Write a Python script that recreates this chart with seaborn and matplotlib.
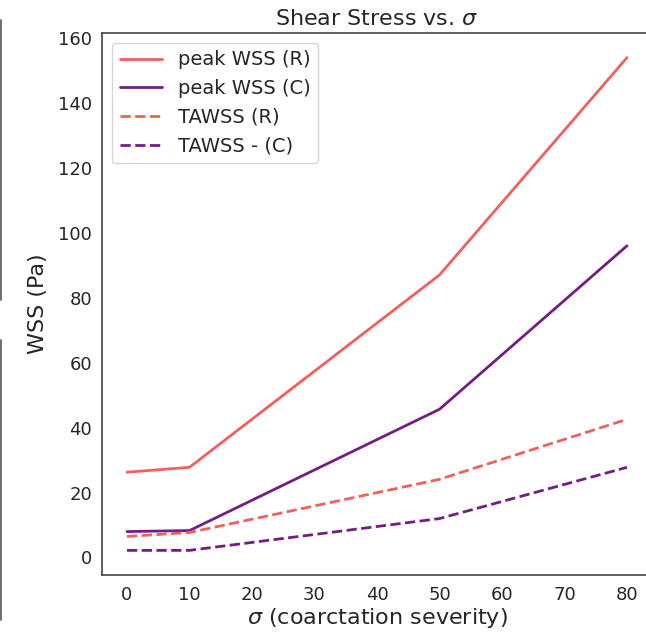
import matplotlib
matplotlib.use("Agg")
import matplotlib.pyplot as plt
from matplotlib.lines import Line2D
import seaborn as sns
import pandas as pd

sigma = [0, 10, 50, 80]
peak_wss_r = [26.3, 27.8, 87.1, 154.1]
peak_wss_c = [8.0, 8.3, 45.7, 96.1]
tawss_r = [6.5, 7.7, 24.1, 42.6]
tawss_c = [2.2, 2.2, 12.0, 27.8]
labels = ["peak WSS (R)", "peak WSS (C)", "TAWSS (R)", "TAWSS - (C)"]

sns.set_theme(style="white")
plt.rcParams['font.family'] = ['DejaVu Sans']

pal = sns.color_palette("magma", 2)
col_r = pal[1]
col_c = pal[0]

fig = plt.figure(figsize=(6.46, 6.33), dpi=100)
ax = fig.add_axes([102/646, 58/633, 550/646, 542/633])

series = [peak_wss_r, peak_wss_c, tawss_r, tawss_c]
colors = [col_r, col_c, col_r, col_c]
styles = ["-", "-", "--", "--"]
for vals, lab, c, ls in zip(series, labels, colors, styles):
    df = pd.DataFrame({"sigma": sigma, "wss": vals})
    sns.lineplot(data=df, x="sigma", y="wss", ax=ax, color=c, linestyle=ls,
                 linewidth=2.0, label=lab)

ax.set_xticks(range(0, 90, 10))
ax.set_yticks(range(0, 180, 20))
ax.tick_params(axis="both", labelsize=13, length=0, colors="#262626")
ax.tick_params(axis="x", pad=8)
ax.tick_params(axis="y", pad=7)
ax.set_xlabel(r"$\sigma$ (coarctation severity)", fontsize=16, labelpad=1)
ax.set_ylabel("WSS (Pa)", fontsize=16, labelpad=7)
ax.set_title(r"Shear Stress vs. $\sigma$", fontsize=16, pad=6)
for s in ax.spines.values():
    s.set_color("#444444")
    s.set_linewidth(1.2)
ax.legend(loc="upper left", fontsize=14, frameon=True, borderaxespad=0.5,
          handlelength=2.2)

# left-edge artifact lines from neighbouring panel
fig.add_artist(Line2D([0.8/646, 0.8/646], [1 - 20/633, 1 - 300/633],
                      transform=fig.transFigure, color="#555555", lw=1.2))
fig.add_artist(Line2D([0.8/646, 0.8/646], [1 - 340/633, 1 - 620/633],
                      transform=fig.transFigure, color="#555555", lw=1.2))

fig.savefig("out.png", dpi=100)
